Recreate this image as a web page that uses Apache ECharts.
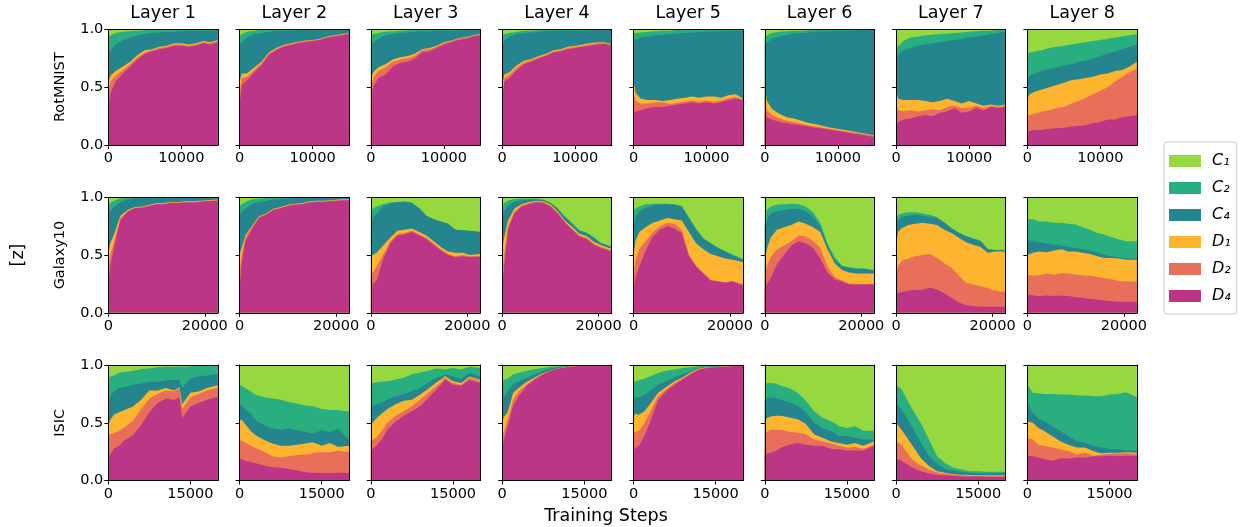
<!DOCTYPE html>
<html>
<head>
<meta charset="utf-8">
<script src="https://cdn.jsdelivr.net/npm/echarts@6/dist/echarts.min.js"></script>
<style>
html,body{margin:0;padding:0;background:#fff;}
#chart{width:1242px;height:527px;}
</style>
</head>
<body>
<div id="chart"></div>
<script>
// ---------- labels ----------
const layerTitles = ['Layer 1','Layer 2','Layer 3','Layer 4','Layer 5','Layer 6','Layer 7','Layer 8'];
const datasetNames = ['RotMNIST','Galaxy10','ISIC'];
const bandNames = ['C₁','C₂','C₄','D₁','D₂','D₄'];
const bandKeys = ['C1','C2','C4','D1','D2','D4'];
const bandColors = ['#95d840','#29af7f','#25858e','#fdb42f','#e8705b','#bc3587'];
const xMaxByDataset = [15000, 22700, 20000];
const xTickByDataset = [[0,10000],[0,20000],[0,15000]];
const yTickValues = [0, 0.5, 1];

// ---------- training steps (x) ----------
const stepsRot = [0,300,1000,2000,3000,4000,5000,6000,7000,8000,9000,10000,11000,12000,13000,14000,15000];
const stepsGal = [0,400,1200,2500,4000,5500,7000,8500,10000,11500,13000,14500,16000,17500,19000,20500,22700];
const stepsIsic = [0,300,1000,2000,3000,4500,6000,7500,9000,10500,12000,13000,13500,15000,16500,18000,20000];

// ---------- upper edge of each stacked band (C1 band always reaches 1.0) ----------
// RotMNIST
const rot1 = {
  D4:[.30,.45,.55,.62,.68,.74,.79,.81,.83,.84,.86,.86,.85,.86,.88,.87,.89],
  D2:[.45,.55,.60,.65,.70,.76,.80,.82,.84,.85,.87,.87,.86,.87,.89,.88,.90],
  D1:[.55,.60,.64,.68,.72,.78,.82,.83,.85,.86,.88,.88,.87,.88,.90,.89,.91],
  C4:[.78,.82,.87,.91,.93,.95,.96,.97,.975,.98,.98,.985,.99,.99,.99,.99,.995],
  C2:[.93,.95,.97,.98,.985,.99,.995,1,1,1,1,1,1,1,1,1,1]};
const rot2 = {
  D4:[.35,.52,.56,.63,.69,.78,.82,.85,.865,.88,.89,.90,.91,.93,.94,.95,.96],
  D2:[.45,.58,.59,.65,.71,.79,.83,.86,.875,.89,.90,.905,.915,.935,.945,.955,.965],
  D1:[.55,.62,.62,.67,.72,.80,.84,.865,.88,.895,.905,.91,.92,.94,.95,.96,.97],
  C4:[.86,.89,.93,.96,.97,.98,.99,.99,.99,.995,.995,.995,1,1,1,1,1],
  C2:[.94,.96,.98,.99,.995,1,1,1,1,1,1,1,1,1,1,1,1]};
const rot3 = {
  D4:[.38,.50,.58,.61,.68,.71,.72,.75,.80,.81,.84,.87,.89,.91,.92,.94,.95],
  D2:[.45,.58,.64,.67,.72,.74,.75,.77,.82,.83,.85,.88,.90,.92,.93,.945,.955],
  D1:[.58,.63,.67,.70,.74,.76,.77,.79,.83,.84,.86,.89,.905,.925,.935,.95,.96],
  C4:[.84,.88,.92,.95,.96,.97,.975,.98,.985,.985,.99,.99,.99,.99,.995,.995,.995],
  C2:[.94,.96,.97,.98,.985,.99,.995,.995,1,1,1,1,1,1,1,1,1]};
const rot4 = {
  D4:[.40,.55,.58,.65,.70,.72,.75,.77,.80,.81,.83,.84,.85,.86,.87,.875,.86],
  D2:[.45,.58,.61,.67,.715,.735,.76,.78,.81,.82,.84,.85,.86,.87,.88,.885,.87],
  D1:[.52,.61,.63,.69,.73,.745,.77,.79,.82,.83,.85,.86,.87,.88,.89,.89,.875],
  C4:[.86,.90,.94,.96,.97,.975,.98,.985,.99,.99,.99,.99,.99,.995,.995,.995,.995],
  C2:[.95,.96,.97,.98,.99,.99,.995,1,1,1,1,1,1,1,1,1,1]};
const rot5 = {
  D4:[.27,.29,.30,.32,.33,.33,.34,.35,.36,.37,.36,.37,.36,.37,.39,.40,.39],
  D2:[.45,.38,.36,.36,.37,.37,.355,.365,.375,.385,.375,.385,.375,.385,.405,.415,.395],
  D1:[.55,.45,.40,.39,.39,.38,.39,.40,.41,.42,.41,.42,.42,.41,.43,.44,.40],
  C4:[.89,.91,.93,.94,.95,.955,.96,.965,.97,.975,.98,.98,.985,.985,.99,.99,.99],
  C2:[.96,.97,.975,.98,.985,.99,.99,.995,.995,1,1,1,1,1,1,1,1]};
const rot6 = {
  D4:[.25,.24,.22,.20,.19,.18,.17,.16,.15,.14,.13,.12,.11,.10,.09,.08,.07],
  D2:[.40,.30,.26,.23,.21,.20,.185,.17,.16,.15,.14,.13,.12,.11,.10,.09,.08],
  D1:[.50,.38,.31,.27,.24,.23,.21,.19,.18,.165,.15,.14,.13,.12,.105,.095,.085],
  C4:[.86,.89,.92,.94,.955,.965,.97,.975,.98,.985,.985,.99,.99,.99,.995,.995,.995],
  C2:[.94,.95,.97,.98,.985,.99,.99,.995,.995,1,1,1,1,1,1,1,1]};
const rot7 = {
  D4:[.16,.20,.22,.23,.25,.26,.25,.28,.29,.32,.28,.29,.32,.30,.33,.32,.33],
  D2:[.35,.30,.29,.30,.29,.30,.31,.30,.33,.34,.32,.32,.34,.32,.34,.33,.34],
  D1:[.48,.40,.39,.39,.39,.38,.37,.38,.40,.38,.36,.38,.36,.34,.35,.34,.35],
  C4:[.75,.78,.82,.84,.86,.87,.88,.89,.90,.91,.92,.93,.94,.95,.96,.97,.98],
  C2:[.84,.86,.90,.93,.94,.95,.955,.96,.965,.97,.975,.98,.985,.99,.99,.995,.995]};
const rot8 = {
  D4:[.12,.12,.13,.13,.14,.145,.15,.16,.165,.17,.19,.20,.22,.22,.24,.25,.26],
  D2:[.25,.26,.27,.29,.30,.32,.33,.36,.38,.41,.44,.47,.50,.55,.59,.63,.66],
  D1:[.40,.44,.46,.48,.50,.52,.54,.56,.57,.58,.59,.61,.62,.64,.65,.68,.72],
  C4:[.58,.60,.62,.64,.66,.67,.69,.70,.72,.73,.75,.77,.79,.81,.83,.85,.87],
  C2:[.79,.80,.81,.82,.84,.85,.86,.87,.88,.89,.90,.91,.92,.93,.94,.95,.96]};
// Galaxy10
const gal1 = {
  D4:[.25,.40,.57,.80,.875,.905,.91,.925,.94,.94,.95,.95,.955,.955,.96,.965,.97],
  D2:[.35,.50,.62,.82,.88,.91,.915,.93,.945,.945,.955,.955,.96,.96,.965,.97,.975],
  D1:[.50,.60,.68,.84,.89,.915,.92,.935,.95,.95,.96,.96,.965,.965,.97,.975,.98],
  C4:[.85,.88,.92,.96,.98,.99,.995,1,1,1,1,1,1,1,1,1,1],
  C2:[.93,.95,.97,.99,.995,1,1,1,1,1,1,1,1,1,1,1,1]};
const gal2 = {
  D4:[.20,.42,.62,.72,.82,.85,.89,.905,.925,.935,.94,.955,.96,.96,.965,.97,.975],
  D2:[.35,.50,.65,.74,.83,.855,.895,.91,.93,.94,.945,.96,.965,.965,.97,.975,.98],
  D1:[.50,.56,.67,.75,.835,.86,.90,.915,.935,.945,.95,.965,.97,.97,.975,.98,.985],
  C4:[.85,.87,.90,.94,.96,.97,.98,.985,.99,.995,1,1,1,1,1,1,1],
  C2:[.92,.94,.96,.98,.99,.995,1,1,1,1,1,1,1,1,1,1,1]};
const gal3 = {
  D4:[.20,.25,.28,.46,.60,.67,.68,.70,.67,.64,.59,.54,.50,.48,.49,.48,.485],
  D2:[.30,.35,.40,.50,.62,.68,.69,.71,.68,.65,.60,.55,.51,.49,.50,.49,.495],
  D1:[.48,.50,.52,.58,.65,.71,.72,.73,.70,.67,.62,.57,.53,.52,.52,.50,.51],
  C4:[.72,.82,.86,.92,.95,.955,.96,.95,.905,.84,.81,.79,.77,.72,.715,.71,.70],
  C2:[.88,.90,.92,.94,.955,.96,.965,.955,.905,.84,.81,.79,.77,.72,.715,.71,.70]};
const gal4 = {
  D4:[.20,.40,.72,.86,.92,.94,.955,.95,.92,.86,.78,.72,.66,.64,.59,.56,.53],
  D2:[.35,.50,.75,.87,.93,.95,.965,.96,.93,.87,.79,.73,.67,.65,.60,.57,.54],
  D1:[.55,.65,.80,.90,.94,.96,.97,.965,.94,.88,.80,.745,.685,.665,.615,.585,.555],
  C4:[.83,.88,.93,.96,.975,.98,.98,.975,.95,.90,.83,.77,.71,.69,.65,.60,.57],
  C2:[.92,.95,.97,.985,.99,.99,.99,.98,.955,.905,.835,.775,.715,.695,.655,.605,.575]};
const gal5 = {
  D4:[.20,.30,.40,.54,.66,.72,.75,.73,.69,.49,.40,.34,.28,.27,.26,.27,.24],
  D2:[.30,.45,.55,.62,.70,.75,.78,.77,.72,.50,.405,.345,.285,.275,.265,.275,.245],
  D1:[.50,.62,.70,.74,.78,.80,.82,.81,.80,.70,.60,.55,.51,.49,.47,.46,.44],
  C4:[.75,.82,.88,.91,.93,.94,.94,.935,.92,.82,.72,.64,.60,.56,.53,.50,.46],
  C2:[.88,.90,.92,.94,.945,.945,.945,.94,.925,.825,.725,.645,.605,.565,.535,.505,.465]};
const gal6 = {
  D4:[.20,.25,.30,.42,.50,.58,.62,.60,.56,.47,.35,.29,.27,.245,.245,.245,.245],
  D2:[.30,.40,.48,.55,.58,.62,.67,.66,.62,.56,.40,.31,.28,.255,.25,.25,.25],
  D1:[.45,.55,.65,.72,.74,.76,.79,.77,.74,.70,.55,.43,.37,.35,.34,.34,.34],
  C4:[.75,.80,.86,.88,.89,.90,.90,.88,.83,.75,.58,.46,.40,.39,.38,.38,.365],
  C2:[.85,.89,.92,.935,.94,.945,.94,.92,.87,.78,.60,.48,.41,.395,.385,.385,.37]};
const gal7 = {
  D4:[.17,.17,.18,.19,.20,.20,.22,.20,.17,.13,.09,.066,.058,.052,.052,.052,.052],
  D2:[.35,.40,.45,.47,.49,.50,.51,.475,.43,.39,.32,.26,.245,.23,.215,.19,.18],
  D1:[.60,.70,.735,.76,.77,.78,.77,.76,.72,.69,.65,.61,.59,.57,.52,.53,.53],
  C4:[.78,.80,.83,.84,.85,.84,.83,.82,.78,.73,.69,.66,.64,.62,.55,.54,.54],
  C2:[.82,.85,.86,.87,.87,.86,.85,.83,.785,.735,.695,.665,.645,.625,.555,.545,.545]};
const gal8 = {
  D4:[.16,.16,.15,.145,.15,.145,.15,.145,.135,.13,.12,.115,.107,.10,.095,.095,.095],
  D2:[.33,.33,.32,.325,.34,.33,.345,.34,.33,.325,.32,.31,.30,.29,.275,.27,.27],
  D1:[.50,.51,.52,.53,.525,.54,.55,.53,.53,.52,.51,.49,.475,.475,.47,.46,.46],
  C4:[.63,.63,.62,.61,.60,.59,.58,.57,.56,.55,.54,.52,.50,.49,.48,.47,.47],
  C2:[.81,.81,.81,.79,.79,.78,.78,.77,.765,.74,.72,.69,.675,.655,.635,.62,.62]};
// ISIC
const isic1 = {
  D4:[.20,.22,.275,.30,.35,.39,.48,.59,.67,.71,.70,.72,.54,.64,.67,.70,.725],
  D2:[.38,.40,.41,.43,.46,.52,.62,.71,.75,.78,.77,.80,.62,.72,.75,.78,.805],
  D1:[.48,.52,.57,.59,.61,.64,.70,.78,.78,.80,.78,.81,.66,.76,.77,.80,.825],
  C4:[.70,.72,.77,.80,.81,.83,.84,.855,.855,.865,.87,.875,.80,.885,.90,.91,.92],
  C2:[.88,.90,.91,.935,.94,.95,.965,.97,.98,.985,.985,.99,.985,.99,.995,.995,.995]};
const isic2 = {
  D4:[.19,.18,.17,.16,.15,.13,.115,.11,.10,.087,.072,.068,.067,.064,.064,.067,.064],
  D2:[.35,.35,.33,.30,.28,.25,.21,.20,.21,.22,.225,.23,.24,.245,.245,.26,.245],
  D1:[.51,.53,.49,.43,.39,.35,.32,.30,.30,.31,.32,.33,.33,.30,.325,.29,.30],
  C4:[.67,.66,.62,.58,.52,.48,.45,.44,.45,.435,.42,.41,.41,.435,.42,.45,.35],
  C2:[.83,.82,.80,.77,.74,.72,.71,.70,.68,.665,.65,.645,.64,.62,.61,.61,.595]};
const isic3 = {
  D4:[.24,.27,.30,.355,.44,.51,.56,.60,.645,.715,.79,.84,.875,.83,.82,.87,.845],
  D2:[.33,.35,.37,.43,.50,.56,.60,.645,.70,.76,.82,.86,.89,.845,.83,.89,.86],
  D1:[.47,.50,.54,.58,.62,.66,.69,.70,.745,.795,.85,.88,.905,.86,.845,.90,.87],
  C4:[.60,.64,.66,.675,.70,.73,.745,.775,.80,.85,.89,.905,.92,.90,.88,.93,.90],
  C2:[.84,.84,.85,.855,.86,.875,.89,.92,.935,.95,.97,.965,.96,.975,.96,.985,.975]};
const isic4 = {
  D4:[.28,.35,.47,.645,.73,.82,.875,.92,.95,.97,.983,.987,.99,.995,.995,.995,.995],
  D2:[.38,.42,.53,.70,.77,.835,.885,.925,.953,.972,.985,.989,.992,.996,.996,.996,.996],
  D1:[.50,.55,.59,.76,.80,.855,.895,.93,.955,.975,.987,.991,.994,.997,.997,.997,.997],
  C4:[.68,.72,.77,.835,.86,.89,.92,.95,.97,.983,.99,.993,.995,.998,.998,.998,.998],
  C2:[.85,.87,.88,.92,.93,.95,.965,.975,.985,.99,.995,.997,1,1,1,1,1]};
const isic5 = {
  D4:[.25,.28,.30,.385,.50,.70,.775,.83,.875,.92,.96,.97,.975,.98,.985,.99,.995],
  D2:[.40,.42,.43,.50,.59,.73,.79,.845,.885,.93,.965,.973,.978,.983,.988,.993,.997],
  D1:[.55,.58,.57,.60,.66,.76,.81,.86,.895,.94,.97,.978,.98,.985,.99,.995,.998],
  C4:[.70,.72,.72,.74,.78,.83,.86,.895,.92,.95,.975,.98,.985,.99,.993,.997,.999],
  C2:[.85,.86,.87,.88,.90,.93,.95,.96,.975,.98,.99,.993,.995,1,1,1,1]};
const isic6 = {
  D4:[.225,.23,.24,.255,.285,.31,.325,.31,.30,.30,.275,.27,.27,.26,.26,.26,.30],
  D2:[.40,.42,.44,.44,.44,.42,.415,.40,.355,.34,.32,.31,.30,.285,.29,.275,.31],
  D1:[.53,.54,.555,.56,.56,.545,.53,.49,.40,.37,.34,.33,.325,.31,.325,.30,.34],
  C4:[.70,.70,.72,.715,.70,.675,.645,.59,.50,.455,.43,.40,.385,.385,.37,.355,.355],
  C2:[.84,.84,.845,.84,.82,.80,.76,.69,.60,.545,.515,.49,.47,.455,.47,.43,.43]};
const isic7 = {
  D4:[.19,.18,.17,.14,.11,.08,.06,.05,.043,.04,.035,.035,.035,.035,.03,.03,.03],
  D2:[.34,.33,.31,.24,.18,.13,.095,.07,.06,.05,.045,.043,.04,.04,.04,.04,.04],
  D1:[.50,.49,.44,.37,.30,.195,.125,.08,.067,.055,.05,.049,.048,.046,.045,.045,.045],
  C4:[.67,.66,.61,.54,.455,.33,.21,.145,.10,.085,.075,.07,.067,.06,.06,.06,.067],
  C2:[.83,.83,.79,.70,.615,.50,.355,.21,.15,.11,.095,.085,.08,.08,.075,.075,.075]};
const isic8 = {
  D4:[.21,.21,.21,.20,.185,.17,.19,.19,.20,.20,.21,.21,.21,.215,.21,.215,.215],
  D2:[.37,.36,.355,.31,.30,.285,.27,.255,.225,.24,.215,.22,.225,.23,.235,.235,.23],
  D1:[.51,.50,.50,.455,.43,.385,.34,.31,.285,.285,.255,.24,.235,.24,.24,.245,.24],
  C4:[.67,.66,.585,.54,.515,.47,.43,.385,.34,.325,.30,.29,.285,.27,.27,.26,.26],
  C2:[.83,.82,.76,.755,.75,.75,.745,.745,.735,.735,.73,.73,.73,.745,.75,.765,.72]};

const stepsByDataset = [stepsRot, stepsGal, stepsIsic];
const panels = [
  [rot1,rot2,rot3,rot4,rot5,rot6,rot7,rot8],
  [gal1,gal2,gal3,gal4,gal5,gal6,gal7,gal8],
  [isic1,isic2,isic3,isic4,isic5,isic6,isic7,isic8]
];

// ---------- layout ----------
const FONT = 'DejaVu Sans';
const colLeft0 = 108.3, colStep = 131.3, panelW = 109.5;
const rowTops = [29.5, 197.3, 365], panelH = 115.5;

const grids = [], xAxes = [], yAxes = [], series = [];
for (let r = 0; r < 3; r++) {
  for (let c = 0; c < 8; c++) {
    const g = r * 8 + c;
    grids.push({left: colLeft0 + c * colStep, top: rowTops[r], width: panelW, height: panelH, containLabel: false});
    const xMax = xMaxByDataset[r];
    xAxes.push({
      type: 'value', gridIndex: g, min: 0, max: xMax, position: 'bottom', z: 10,
      axisLine: {show: true, onZero: false, lineStyle: {color: '#000', width: 1}},
      axisTick: {show: true, length: 4, lineStyle: {color: '#000', width: 1}, customValues: xTickByDataset[r]},
      axisLabel: {show: true, customValues: xTickByDataset[r], formatter: v => String(Math.round(v)),
                  fontSize: 14.5, color: '#000', fontFamily: FONT, margin: 6},
      splitLine: {show: false}
    });
    xAxes.push({
      type: 'value', gridIndex: g, min: 0, max: xMax, position: 'top', z: 10,
      axisLine: {show: true, onZero: false, lineStyle: {color: '#000', width: 1}},
      axisTick: {show: false}, axisLabel: {show: false}, splitLine: {show: false},
      name: r === 0 ? layerTitles[c] : '', nameLocation: 'middle', nameGap: 7,
      nameTextStyle: {fontSize: 17.5, color: '#000', fontFamily: FONT}
    });
    yAxes.push({
      type: 'value', gridIndex: g, min: 0, max: 1, interval: 0.5, position: 'left', z: 10,
      axisLine: {show: true, onZero: false, lineStyle: {color: '#000', width: 1}},
      axisTick: {show: true, length: 4, lineStyle: {color: '#000', width: 1}, customValues: yTickValues},
      axisLabel: {show: c === 0, customValues: yTickValues, formatter: v => Number(v).toFixed(1), fontSize: 14.5, color: '#000', fontFamily: FONT, margin: 5},
      splitLine: {show: false},
      name: c === 0 ? datasetNames[r] : '', nameLocation: 'middle', nameGap: 41, nameRotate: 90,
      nameTextStyle: {fontSize: 14.5, color: '#000', fontFamily: FONT}
    });
    yAxes.push({
      type: 'value', gridIndex: g, min: 0, max: 1, position: 'right', z: 10,
      axisLine: {show: true, onZero: false, lineStyle: {color: '#000', width: 1}},
      axisTick: {show: false}, axisLabel: {show: false}, splitLine: {show: false}
    });
    const steps = stepsByDataset[r];
    const pd = panels[r][c];
    bandKeys.forEach((k, bi) => {
      const edge = k === 'C1' ? steps.map(() => 1) : pd[k];
      series.push({
        type: 'line', name: bandNames[bi], xAxisIndex: 2 * g, yAxisIndex: 2 * g,
        data: steps.map((s, i) => [s, edge[i]]),
        symbol: 'none', showSymbol: false, silent: true, animation: false,
        lineStyle: {width: 0, color: bandColors[bi]},
        itemStyle: {color: bandColors[bi]},
        areaStyle: {color: bandColors[bi], opacity: 1},
        z: 2
      });
    });
  }
}

const chart = echarts.init(document.getElementById('chart'), null, {renderer: 'canvas'});
chart.setOption({
  backgroundColor: '#fff',
  animation: false,
  grid: grids,
  xAxis: xAxes,
  yAxis: yAxes,
  series: series,
  legend: {
    data: bandNames, orient: 'vertical', left: 1164, top: 142,
    icon: 'rect', itemWidth: 32, itemHeight: 12, itemGap: 11,
    borderColor: '#cccccc', borderWidth: 1, borderRadius: 3, padding: [11, 6, 10, 5],
    selectedMode: false,
    textStyle: {fontSize: 16, fontStyle: 'italic', fontFamily: FONT, color: '#000', padding: [0, 0, 0, 6]}
  },
  graphic: [
    {type: 'text', x: 18, y: 255, rotation: Math.PI / 2,
     style: {text: '[z]', fontSize: 17.5, fontFamily: FONT, fill: '#000', align: 'center', verticalAlign: 'middle'}},
    {type: 'text', x: 606, y: 516,
     style: {text: 'Training Steps', fontSize: 17.5, fontFamily: FONT, fill: '#000', align: 'center', verticalAlign: 'middle'}}
  ]
});
</script>
</body>
</html>
